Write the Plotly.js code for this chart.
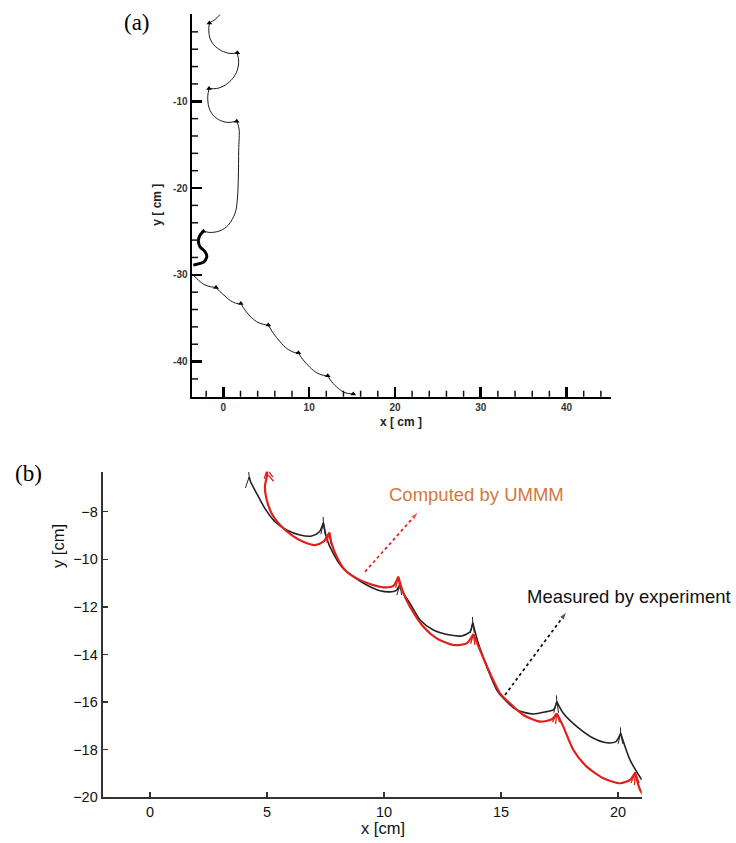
<!DOCTYPE html>
<html><head><meta charset="utf-8">
<script src="https://cdn.plot.ly/plotly-3.0.1.min.js"></script>
<style>html,body{margin:0;padding:0;background:#fff}#chart{width:736px;height:843px}</style>
</head><body><div id="chart"></div>
<script>
// ---------- Panel (a): simulated trajectory ----------
const aPathX = [-0.38,-0.97,-1.63,null,
  -1.63,-1.70,-1.55,-1.08,-0.19,0.78,1.63,null,
  1.63,1.79,1.63,1.10,0.20,-0.77,-1.67,null,
  -1.67,-1.82,-1.70,-1.35,-0.58,0.47,1.56,null,
  1.56,1.83,1.79,1.75,1.63,1.36,0.58,-0.38,-1.55,-2.33,null,
  -3.50,-2.91,-2.13,-1.47,-0.85,null,
  -0.85,-0.38,0.20,0.86,1.56,2.03,null,
  2.03,2.53,3.11,3.89,4.66,5.24,null,
  5.24,5.83,6.61,7.39,8.16,8.74,null,
  8.74,9.32,10.10,10.89,11.66,12.17,null,
  12.17,12.63,13.40,14.18,15.15];
const aPathY = [0.0,-0.58,-0.97,null,
  -0.97,-1.81,-2.77,-3.54,-4.19,-4.49,-4.42,null,
  -4.42,-5.46,-6.42,-7.37,-8.15,-8.53,-8.53,null,
  -8.53,-9.49,-10.65,-11.41,-12.10,-12.44,-12.29,null,
  -12.29,-13.13,-15.63,-18.71,-21.39,-22.93,-24.27,-24.93,-25.12,-24.97,null,
  -30.03,-30.61,-31.18,-31.38,-31.45,null,
  -31.45,-31.95,-32.45,-33.0,-33.3,-33.3,null,
  -33.3,-34.07,-34.76,-35.41,-35.71,-35.79,null,
  -35.79,-36.75,-37.72,-38.48,-38.91,-38.99,null,
  -38.99,-39.83,-40.67,-41.29,-41.59,-41.64,null,
  -41.64,-42.33,-43.09,-43.59,-43.74];
// thick tangled part near x=-3
const aKnotX = [-2.33,-2.72,-2.91,-2.72,-2.13,-1.93,-2.25,-3.03,-3.50];
const aKnotY = [-24.97,-25.43,-26.0,-26.77,-27.35,-27.93,-28.5,-28.77,-28.88];
// cusp marks
const aCuspX = [-1.63,1.63,-1.67,1.56,-2.33,-0.85,2.03,5.24,8.74,12.17,15.15];
const aCuspY = [-0.97,-4.42,-8.53,-12.29,-24.97,-31.45,-33.3,-35.79,-38.99,-41.64,-43.74];
// tick label text (hyphen minus, no label at the top)
const aTickYAlias = {'\u221240':'-40','\u221230':'-30','\u221220':'-20','\u221210':'-10','0':' '};
// minor tick positions
const aMinorX = [-2,2,4,6,8,12,14,16,18,22,24,26,28,32,34,36,38,42,44];
const aMinorY = [-42,-38,-36,-34,-32,-28,-26,-24,-22,-18,-16,-14,-12,-8,-6,-4,-2];

// ---------- Panel (b): computed vs measured ----------
const measX = [4.24,4.30,4.56,4.91,5.34,5.84,6.41,6.91,7.24,7.41,null,
  7.41,7.55,7.83,8.19,8.69,9.26,9.83,10.33,10.54,10.68,null,
  10.68,10.85,11.11,11.54,12.11,12.82,13.32,13.68,13.79,null,
  13.79,14.03,14.39,14.82,15.10,15.67,16.38,16.95,17.24,17.38,null,
  17.38,17.66,18.24,18.95,19.52,19.91,20.11,null,
  20.11,20.51,21.01];
const measY = [-6.53,-6.74,-7.23,-7.86,-8.42,-8.77,-8.98,-9.02,-8.84,-8.46,null,
  -8.46,-9.12,-9.75,-10.31,-10.73,-11.08,-11.32,-11.36,-11.29,-11.04,null,
  -11.04,-11.45,-11.85,-12.55,-12.97,-13.18,-13.22,-13.04,-12.66,null,
  -12.66,-13.53,-14.51,-15.49,-15.84,-16.33,-16.50,-16.40,-16.33,-15.98,null,
  -15.98,-16.47,-17.03,-17.52,-17.71,-17.66,-17.31,null,
  -17.31,-18.43,-19.27];
const measHairX = [4.22,4.24,4.08,null, 7.40,7.41,7.30,null, 7.41,7.48,null,
  10.66,10.68,10.55,null, 10.68,10.75,null, 13.78,13.79,13.68,null, 13.79,13.86,null,
  17.37,17.38,17.25,null, 17.38,17.46,null, 20.10,20.11,20.00,null, 20.11,20.20];
const measHairY = [-6.33,-6.53,-7.00,null, -8.22,-8.46,-8.95,null, -8.46,-8.95,null,
  -10.82,-11.04,-11.50,null, -11.04,-11.50,null, -12.42,-12.66,-13.10,null, -12.66,-13.10,null,
  -15.72,-15.98,-16.45,null, -15.98,-16.45,null, -17.06,-17.31,-17.75,null, -17.31,-17.75];

const compX = [5.01,4.99,4.91,4.99,5.20,5.56,6.05,6.55,7.05,7.41,7.67,null,
  7.67,7.76,7.98,8.33,8.83,9.40,9.97,10.40,10.61,null,
  10.61,10.83,11.11,11.68,12.25,12.96,13.53,13.82,null,
  13.82,14.10,14.53,14.96,15.38,15.95,16.67,17.17,17.38,null,
  17.38,17.66,18.09,18.66,19.37,20.09,20.51,20.73,null,
  20.73,20.94,21.30];
const compY = [-6.22,-6.53,-6.95,-7.51,-8.07,-8.56,-8.98,-9.26,-9.40,-9.26,-8.88,null,
  -8.88,-9.33,-9.89,-10.45,-10.80,-11.04,-11.18,-11.12,-10.73,null,
  -10.73,-11.43,-11.99,-12.83,-13.32,-13.60,-13.53,-13.14,null,
  -13.14,-13.81,-14.79,-15.63,-16.05,-16.54,-16.82,-16.72,-16.47,null,
  -16.47,-17.03,-18.01,-18.71,-19.20,-19.41,-19.27,-18.96,null,
  -18.96,-19.69,-20.18];
const compHairX = [5.25,5.01,4.88,null, 5.28,5.05,null,
  7.55,7.67,7.72,null, 10.50,10.61,10.68,null, 13.70,13.82,13.88,null,
  17.20,17.38,17.50,null, 17.33,17.38,null,
  20.55,20.73,20.90,null, 20.70,20.73];
const compHairY = [-6.55,-6.22,-6.62,null, -6.72,-6.45,null,
  -9.30,-8.88,-9.35,null, -11.20,-10.73,-11.25,null, -13.55,-13.14,-13.60,null,
  -16.85,-16.47,-16.85,null, -16.92,-16.47,
  null, -19.40,-18.96,-19.40,null, -19.48,-18.96];
// annotation arrows (tail -> head)
const arrowCompX = [9.19,11.47], arrowCompY = [-10.52,-8.0];
const arrowMeasX = [15.17,17.81], arrowMeasY = [-15.70,-12.20];
const bTickX = [0,5,10,15,20];
const bTickY = [-20,-18,-16,-14,-12,-10,-8];
const bTickYText = ['\u221220','\u221218','\u221216','\u221214','\u221212','\u221210','\u22128'];

const sans = 'Arial, "Liberation Sans", Helvetica, sans-serif';
const serif = '"Times New Roman", "Liberation Serif", serif';
const aXRange = [-3.65,45.15], aYRange = [-44.05,0.02];

const traces = [
  {x:aPathX, y:aPathY, xaxis:'x', yaxis:'y', mode:'lines', line:{color:'#1a1a1a', width:1, shape:'spline', smoothing:0.9}, hoverinfo:'skip'},
  {x:aKnotX, y:aKnotY, xaxis:'x', yaxis:'y', mode:'lines', line:{color:'#000', width:3, shape:'spline', smoothing:0.6}, hoverinfo:'skip'},
  {x:aCuspX, y:aCuspY, xaxis:'x', yaxis:'y', mode:'markers', marker:{symbol:'triangle-up', size:5, color:'#000'}, hoverinfo:'skip'},
  {x:measX, y:measY, xaxis:'x2', yaxis:'y2', mode:'lines', line:{color:'#222', width:1.6, shape:'spline', smoothing:0.7}, cliponaxis:false, hoverinfo:'skip'},
  {x:measHairX, y:measHairY, xaxis:'x2', yaxis:'y2', mode:'lines', line:{color:'#222', width:1}, hoverinfo:'skip'},
  {x:compX, y:compY, xaxis:'x2', yaxis:'y2', mode:'lines', line:{color:'#e0201b', width:2.2, shape:'spline', smoothing:0.7}, cliponaxis:false, hoverinfo:'skip'},
  {x:compHairX, y:compHairY, xaxis:'x2', yaxis:'y2', mode:'lines', line:{color:'#e0201b', width:1.3}, cliponaxis:false, hoverinfo:'skip'},
  {x:arrowCompX, y:arrowCompY, xaxis:'x2', yaxis:'y2', mode:'lines+markers', line:{color:'#e0201b', width:1.8, dash:'dot'},
    marker:{symbol:'arrow', angleref:'previous', size:[0,9], color:'#e0201b'}, hoverinfo:'skip'},
  {x:arrowMeasX, y:arrowMeasY, xaxis:'x2', yaxis:'y2', mode:'lines+markers', line:{color:'#111', width:1.8, dash:'dot'},
    marker:{symbol:'arrow', angleref:'previous', size:[0,9], color:'#111'}, hoverinfo:'skip'}
];

// minor ticks of panel (a), pointing into the plot (drawn as paper-space segments positioned by the axis scale)
const aXDom = [0.2609,0.8298], aYDom = [0.5294,0.9830];
const W = 736, H = 843;
const xFrac = v => aXDom[0] + (v - aXRange[0]) / (aXRange[1] - aXRange[0]) * (aXDom[1] - aXDom[0]);
const yFrac = v => aYDom[0] + (v - aYRange[0]) / (aYRange[1] - aYRange[0]) * (aYDom[1] - aYDom[0]);
const minorShapes = aMinorX.map(v => ({type:'line', xref:'paper', yref:'paper', x0:xFrac(v), x1:xFrac(v),
    y0:aYDom[0], y1:aYDom[0] + 6/H, line:{color:'#111', width:1.5}, layer:'above'}))
  .concat(aMinorY.map(v => ({type:'line', xref:'paper', yref:'paper', y0:yFrac(v), y1:yFrac(v),
    x0:aXDom[0], x1:aXDom[0] + 6/W, line:{color:'#111', width:1.5}, layer:'above'})));

const layout = {
  width:W, height:H, margin:{l:0,r:0,t:0,b:0}, showlegend:false,
  paper_bgcolor:'#fff', plot_bgcolor:'#fff',
  shapes: minorShapes,
  xaxis:{domain:aXDom, range:aXRange, anchor:'y', showline:true, linewidth:2.5, linecolor:'#000',
    ticks:'inside', ticklen:10, tickwidth:2.5, tickcolor:'#000', tickmode:'linear', tick0:0, dtick:10,
    tickfont:{family:sans, size:10, color:'#333', weight:'bold'}, showgrid:false, zeroline:false},
  yaxis:{domain:aYDom, range:aYRange, anchor:'x', showline:true, linewidth:2.5, linecolor:'#000',
    ticks:'inside', ticklen:10, tickwidth:2.5, tickcolor:'#000', tickmode:'linear', tick0:0, dtick:10, labelalias:aTickYAlias,
    tickfont:{family:sans, size:10, color:'#333', weight:'bold'}, showgrid:false, zeroline:false},
  xaxis2:{domain:[0.1395,0.8719], range:[-2.02,21.01], anchor:'y2', showline:true, linewidth:2, linecolor:'#333',
    ticks:'inside', ticklen:5, tickwidth:1.5, tickcolor:'#333', tickmode:'array', tickvals:bTickX,
    tickfont:{family:sans, size:14.5, color:'#111'}, showgrid:false, zeroline:false},
  yaxis2:{domain:[0.0542,0.4404], range:[-20,-6.32], anchor:'x2', showline:true, linewidth:2, linecolor:'#333',
    ticks:'inside', ticklen:5, tickwidth:1.5, tickcolor:'#333', tickmode:'array', tickvals:bTickY, ticktext:bTickYText,
    tickfont:{family:sans, size:14.5, color:'#111'}, showgrid:false, zeroline:false},
  annotations:[
    {text:'(a)', xref:'paper', yref:'paper', x:137/736, y:1-22/843, showarrow:false, xanchor:'center', yanchor:'middle', font:{family:serif, size:23, color:'#000'}},
    {text:'(b)', xref:'paper', yref:'paper', x:28/736, y:1-474/843, showarrow:false, xanchor:'center', yanchor:'middle', font:{family:serif, size:23, color:'#000'}},
    {text:'y [ cm ]', xref:'paper', yref:'paper', x:156.7/736, y:1-205/843, showarrow:false, textangle:-90, xanchor:'center', yanchor:'middle', font:{family:sans, size:12, color:'#222', weight:'bold'}},
    {text:'x [ cm ]', xref:'paper', yref:'paper', x:400.8/736, y:1-422.3/843, showarrow:false, xanchor:'center', yanchor:'middle', font:{family:sans, size:12, color:'#222', weight:'bold'}},
    {text:'y [cm]', xref:'paper', yref:'paper', x:58/736, y:1-546/843, showarrow:false, textangle:-90, xanchor:'center', yanchor:'middle', font:{family:sans, size:16.5, color:'#111'}},
    {text:'x [cm]', xref:'paper', yref:'paper', x:382.5/736, y:1-828.3/843, showarrow:false, xanchor:'center', yanchor:'middle', font:{family:sans, size:16.5, color:'#111'}},
    {text:'Computed by UMMM', xref:'paper', yref:'paper', x:476/736, y:1-494/843, showarrow:false, xanchor:'center', yanchor:'middle', font:{family:sans, size:18.5, color:'#d2783c'}},
    {text:'Measured by experiment', xref:'paper', yref:'paper', x:629/736, y:1-596/843, showarrow:false, xanchor:'center', yanchor:'middle', font:{family:sans, size:18.5, color:'#111'}}
  ]
};
Plotly.newPlot('chart', traces, layout, {staticPlot:true, displayModeBar:false});
</script></body></html>
